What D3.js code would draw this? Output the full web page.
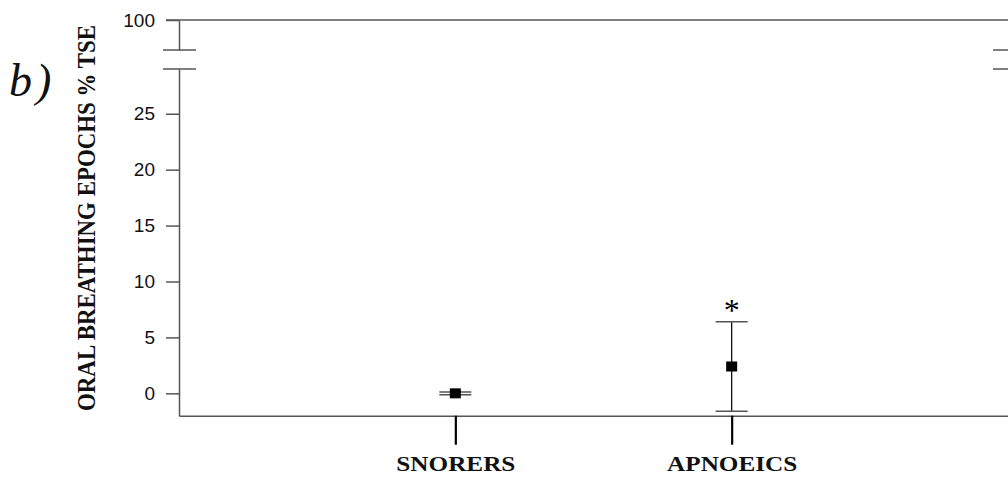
<!DOCTYPE html>
<html>
<head>
<meta charset="utf-8">
<script src="https://cdn.jsdelivr.net/npm/d3@7"></script>
<style>
  body { margin: 0; background: #fff; }
  svg { display: block; }
</style>
</head>
<body>
<svg id="chart"></svg>
<script>
// data
const categories = ["SNORERS", "APNOEICS"];
const means = [0, 2.4];
const errors = [0.12, 4.0];
const lowTicks = [0, 5, 10, 15, 20, 25];
const highTicks = [100];
const yTitle = "ORAL BREATHING EPOCHS  % TSE";
const panelLabel = "b)";

const width = 1008, height = 481;
const left = 179, right = 1008;

const svg = d3.select('#chart')
  .attr('width', width)
  .attr('height', height);

const axisColor = '#555';

// broken y axis: lower part and upper part
const yLow = d3.scaleLinear().domain([-2, 29]).range([415.7, 69]);
const yHigh = d3.scaleLinear().domain([97.3, 100]).range([50, 20]);

const x = d3.scalePoint()
  .domain(categories)
  .range([left, right])
  .padding(1);

function styleY(g) {
  g.select('.domain').attr('stroke', axisColor).attr('stroke-width', 1.5);
  g.selectAll('.tick line').attr('stroke', axisColor).attr('stroke-width', 1.5);
  g.selectAll('.tick text')
    .attr('fill', '#111')
    .attr('font-size', 19)
    .attr('font-family', '"Liberation Sans", Arial, sans-serif');
}

svg.append('g')
  .attr('transform', `translate(${left},0)`)
  .call(d3.axisLeft(yLow).tickValues(lowTicks).tickFormat(d3.format('d'))
    .tickSize(13).tickSizeOuter(0).tickPadding(11))
  .call(styleY);

svg.append('g')
  .attr('transform', `translate(${left},0)`)
  .call(d3.axisLeft(yHigh).tickValues(highTicks).tickFormat(d3.format('d'))
    .tickSize(13).tickSizeOuter(0).tickPadding(11))
  .call(styleY);

// top frame line at 100
svg.append('line')
  .attr('x1', left - 13).attr('x2', right)
  .attr('y1', yHigh(100)).attr('y2', yHigh(100))
  .attr('stroke', axisColor).attr('stroke-width', 1.5);

// break marks on both sides
const breakYs = [yHigh.range()[0], yLow.range()[1]];
breakYs.forEach(by => {
  svg.append('line')
    .attr('x1', left - 16).attr('x2', left + 17)
    .attr('y1', by).attr('y2', by)
    .attr('stroke', axisColor).attr('stroke-width', 1.5);
  svg.append('line')
    .attr('x1', right - 15).attr('x2', right)
    .attr('y1', by).attr('y2', by)
    .attr('stroke', axisColor).attr('stroke-width', 1.5);
});

// x axis
const xAxis = svg.append('g')
  .attr('transform', `translate(0,${yLow(-2)})`)
  .call(d3.axisBottom(x).tickSize(29).tickSizeOuter(0));

xAxis.select('.domain').attr('stroke', axisColor).attr('stroke-width', 1.5);
xAxis.selectAll('.tick line').attr('stroke', '#000').attr('stroke-width', 2.2);
xAxis.selectAll('.tick text')
  .attr('y', 55)
  .attr('dy', 0)
  .attr('fill', '#111')
  .attr('transform', 'scale(1.2,1)')
  .attr('font-size', 21)
  .attr('font-weight', 'bold')
  .attr('font-family', '"Liberation Serif", "Times New Roman", serif');

// error bars with means
const points = categories.map((c, i) => ({ name: c, mean: means[i], se: errors[i] }));

const bars = svg.append('g')
  .selectAll('g')
  .data(points)
  .enter()
  .append('g')
  .attr('transform', d => `translate(${x(d.name)},0)`);

bars.append('line')
  .attr('y1', d => yLow(d.mean + d.se))
  .attr('y2', d => yLow(d.mean - d.se))
  .attr('stroke', '#111').attr('stroke-width', 1.3);

bars.selectAll('.cap')
  .data(d => [d.mean + d.se, d.mean - d.se])
  .enter()
  .append('line')
  .attr('class', 'cap')
  .attr('x1', -16).attr('x2', 16)
  .attr('y1', v => yLow(v)).attr('y2', v => yLow(v))
  .attr('stroke', '#555').attr('stroke-width', 1.5);

bars.append('rect')
  .attr('x', -5.5).attr('y', d => yLow(d.mean) - 5)
  .attr('width', 11).attr('height', 10)
  .attr('fill', '#000');

// significance star above apnoeics
svg.append('text')
  .attr('x', x('APNOEICS'))
  .attr('y', yLow(means[1] + errors[1]) - 1)
  .attr('text-anchor', 'middle')
  .attr('font-size', 32)
  .attr('font-family', '"Liberation Serif", "Times New Roman", serif')
  .text('*');

// y axis title (smaller font, stretched across the glyph height)
svg.append('text')
  .attr('transform', 'translate(95,218) rotate(-90) scale(1,1.15)')
  .attr('text-anchor', 'middle')
  .attr('textLength', 386)
  .attr('lengthAdjust', 'spacingAndGlyphs')
  .attr('fill', '#111')
  .attr('font-size', 22)
  .attr('font-weight', 'bold')
  .attr('font-family', '"Liberation Serif", "Times New Roman", serif')
  .text(yTitle);

// panel label
svg.append('text')
  .attr('x', 9).attr('y', 96)
  .attr('fill', '#111')
  .attr('font-size', 46)
  .attr('font-style', 'italic')
  .attr('letter-spacing', 4)
  .attr('font-family', '"Liberation Serif", "Times New Roman", serif')
  .text(panelLabel);
</script>
</body>
</html>
